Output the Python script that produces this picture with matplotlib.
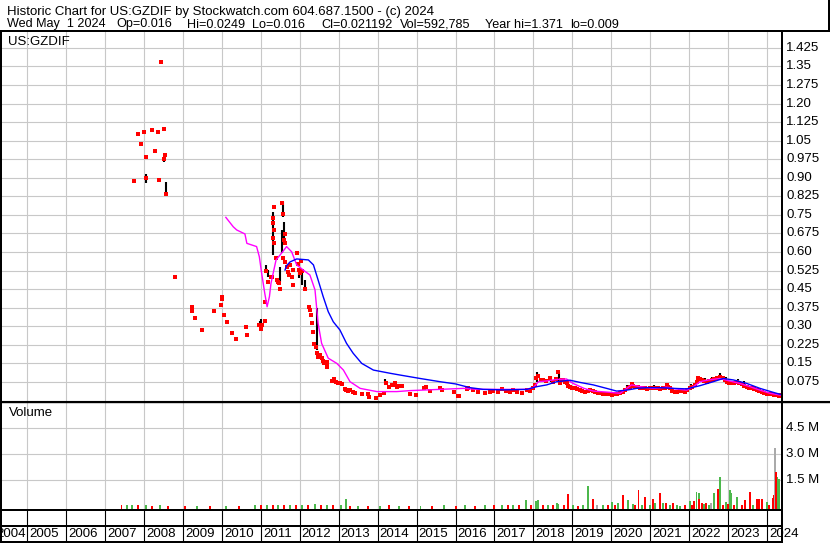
import matplotlib
matplotlib.use("Agg")
import matplotlib.pyplot as plt
from matplotlib.lines import Line2D
from matplotlib.transforms import blended_transform_factory

plt.rcParams['font.family'] = ['Liberation Sans', 'DejaVu Sans']

# ---- data (date as decimal year) ----
close_points = [
    (2007.73, 0.888), (2007.84, 1.078), (2007.91, 1.038), (2008.00, 1.085), (2008.04, 0.900), (2008.05, 0.985),
    (2008.20, 1.093), (2008.28, 1.008), (2008.36, 1.085), (2008.38, 0.892), (2008.43, 1.368), (2008.51, 1.097),
    (2008.52, 0.975), (2008.53, 0.990), (2008.57, 0.834), (2008.79, 0.500),
    (2009.23, 0.379), (2009.23, 0.363), (2009.30, 0.335), (2009.49, 0.285), (2009.80, 0.363), (2009.98, 0.387),
    (2010.00, 0.420), (2010.01, 0.410), (2010.05, 0.347), (2010.13, 0.318), (2010.26, 0.274), (2010.36, 0.249),
    (2010.62, 0.298), (2010.64, 0.265),
    (2010.96, 0.306), (2011.00, 0.288), (2011.02, 0.306), (2011.10, 0.323), (2011.10, 0.399), (2011.13, 0.523),
    (2011.19, 0.480), (2011.25, 0.498), (2011.28, 0.498), (2011.34, 0.781), (2011.32, 0.736), (2011.32, 0.716),
    (2011.34, 0.689), (2011.32, 0.655), (2011.34, 0.635), (2011.39, 0.575), (2011.41, 0.487), (2011.45, 0.480),
    (2011.47, 0.474), (2011.49, 0.449), (2011.54, 0.797), (2011.58, 0.754), (2011.62, 0.672), (2011.60, 0.649),
    (2011.62, 0.635), (2011.58, 0.575), (2011.62, 0.561), (2011.66, 0.541), (2011.70, 0.521), (2011.73, 0.507),
    (2011.75, 0.548), (2011.79, 0.500), (2011.83, 0.527), (2011.82, 0.467), (2011.92, 0.597), (2011.95, 0.552),
    (2011.98, 0.527), (2012.02, 0.564), (2012.05, 0.523), (2012.00, 0.514), (2012.13, 0.449),
    (2012.24, 0.379), (2012.26, 0.366), (2012.28, 0.346), (2012.31, 0.312), (2012.35, 0.278), (2012.37, 0.228),
    (2012.42, 0.217), (2012.43, 0.191), (2012.48, 0.177), (2012.52, 0.184), (2012.56, 0.170), (2012.59, 0.161),
    (2012.62, 0.150), (2012.69, 0.157), (2012.71, 0.147), (2012.70, 0.137),
    (2012.82, 0.080), (2012.88, 0.086), (2012.93, 0.076), (2012.99, 0.069), (2013.03, 0.072), (2013.08, 0.067),
    (2013.16, 0.045), (2013.19, 0.042), (2013.25, 0.040), (2013.29, 0.042), (2013.37, 0.036), (2013.42, 0.031),
    (2013.59, 0.026), (2013.76, 0.025), (2013.79, 0.015), (2013.96, 0.011), (2014.05, 0.022), (2014.15, 0.029),
    (2014.21, 0.072), (2014.30, 0.056), (2014.36, 0.063), (2014.40, 0.064), (2014.45, 0.069), (2014.49, 0.056),
    (2014.55, 0.059), (2014.62, 0.060), (2014.83, 0.026), (2014.98, 0.022), (2015.20, 0.052), (2015.24, 0.056),
    (2015.35, 0.038), (2015.60, 0.050), (2015.64, 0.042), (2015.95, 0.036), (2016.06, 0.019), (2016.10, 0.019),
    (2016.29, 0.048), (2016.33, 0.052), (2016.45, 0.042), (2016.58, 0.036), (2016.76, 0.029), (2016.88, 0.033),
    (2016.95, 0.038), (2017.10, 0.035), (2017.20, 0.046), (2017.30, 0.040), (2017.40, 0.033), (2017.48, 0.042),
    (2017.57, 0.035), (2017.70, 0.029), (2017.83, 0.042), (2017.92, 0.040), (2018.00, 0.049), (2018.05, 0.063),
    (2018.06, 0.089), (2018.12, 0.100), (2018.20, 0.083), (2018.25, 0.083), (2018.33, 0.080), (2018.43, 0.089),
    (2018.50, 0.076), (2018.57, 0.085), (2018.64, 0.114), (2018.68, 0.069), (2018.72, 0.083), (2018.77, 0.083),
    (2018.80, 0.076), (2018.86, 0.069), (2018.90, 0.060), (2018.94, 0.056), (2019.00, 0.052), (2019.07, 0.049),
    (2019.13, 0.045), (2019.20, 0.042), (2019.26, 0.040), (2019.33, 0.036), (2019.39, 0.040), (2019.45, 0.042),
    (2019.52, 0.038), (2019.58, 0.036), (2019.65, 0.032), (2019.71, 0.029), (2019.78, 0.027), (2019.84, 0.025),
    (2019.90, 0.027), (2019.97, 0.025), (2020.03, 0.022), (2020.10, 0.025), (2020.16, 0.027), (2020.22, 0.029),
    (2020.29, 0.036), (2020.35, 0.042), (2020.42, 0.052), (2020.48, 0.056), (2020.53, 0.065), (2020.57, 0.060),
    (2020.61, 0.056), (2020.68, 0.054), (2020.74, 0.052), (2020.80, 0.050), (2020.87, 0.049), (2020.93, 0.047),
    (2021.00, 0.049), (2021.06, 0.050), (2021.12, 0.052), (2021.19, 0.049), (2021.25, 0.047), (2021.32, 0.050),
    (2021.38, 0.052), (2021.42, 0.063), (2021.46, 0.055), (2021.51, 0.049), (2021.57, 0.040), (2021.64, 0.033),
    (2021.70, 0.036), (2021.77, 0.038), (2021.83, 0.037), (2021.89, 0.036), (2021.95, 0.042), (2022.02, 0.049),
    (2022.08, 0.055), (2022.15, 0.063), (2022.20, 0.075), (2022.24, 0.089), (2022.28, 0.086), (2022.32, 0.083),
    (2022.38, 0.079), (2022.45, 0.076), (2022.51, 0.080), (2022.58, 0.083), (2022.64, 0.086), (2022.71, 0.089),
    (2022.75, 0.092), (2022.79, 0.095), (2022.84, 0.092), (2022.88, 0.089), (2022.92, 0.083), (2022.97, 0.076),
    (2023.03, 0.072), (2023.09, 0.069), (2023.16, 0.072), (2023.22, 0.076), (2023.28, 0.070), (2023.35, 0.065),
    (2023.41, 0.060), (2023.48, 0.056), (2023.54, 0.052), (2023.61, 0.049), (2023.67, 0.045), (2023.74, 0.042),
    (2023.80, 0.038), (2023.86, 0.033), (2023.92, 0.029), (2023.99, 0.025), (2024.05, 0.026), (2024.12, 0.025),
    (2024.18, 0.024), (2024.25, 0.022), (2024.30, 0.020), (2024.33, 0.021),
]

# daily high-low ranges (date, low, high)
range_points = [
    (2008.00, 1.075, 1.095), (2008.04, 0.880, 0.915), (2008.52, 0.965, 0.985), (2008.57, 0.834, 0.884),
    (2010.98, 0.305, 0.322), (2011.00, 0.305, 0.331), (2011.13, 0.521, 0.548), (2011.19, 0.500, 0.527),
    (2011.30, 0.588, 0.763), (2011.41, 0.474, 0.494), (2011.50, 0.480, 0.541), (2011.53, 0.595, 0.689),
    (2011.57, 0.743, 0.803), (2011.60, 0.650, 0.720), (2011.99, 0.494, 0.534), (2012.05, 0.467, 0.514),
    (2012.13, 0.447, 0.487), (2012.43, 0.204, 0.372), (2014.19, 0.067, 0.086), (2018.10, 0.076, 0.116),
    (2018.45, 0.075, 0.100), (2018.67, 0.069, 0.114), (2019.10, 0.042, 0.058), (2019.60, 0.030, 0.042),
    (2020.40, 0.045, 0.062), (2020.53, 0.056, 0.075), (2020.85, 0.044, 0.058), (2021.10, 0.045, 0.062),
    (2021.42, 0.052, 0.069), (2021.85, 0.032, 0.045), (2022.05, 0.045, 0.065), (2022.24, 0.076, 0.098),
    (2022.40, 0.072, 0.090), (2022.60, 0.075, 0.095), (2022.79, 0.082, 0.110), (2022.95, 0.072, 0.095),
    (2023.25, 0.068, 0.088), (2023.40, 0.058, 0.078), (2023.70, 0.040, 0.055), (2024.30, 0.015, 0.025),
]

ma_short = [
    (2010.10, 0.740), (2010.29, 0.702), (2010.38, 0.689), (2010.59, 0.673), (2010.64, 0.635), (2010.89, 0.622),
    (2010.96, 0.581), (2011.02, 0.514), (2011.10, 0.433), (2011.16, 0.379), (2011.22, 0.420), (2011.26, 0.474),
    (2011.39, 0.568), (2011.56, 0.601), (2011.66, 0.622), (2011.79, 0.601), (2011.92, 0.548), (2012.09, 0.527),
    (2012.26, 0.507), (2012.39, 0.447), (2012.47, 0.312), (2012.56, 0.231), (2012.73, 0.171), (2012.95, 0.150),
    (2013.12, 0.123), (2013.29, 0.076), (2013.55, 0.049), (2013.98, 0.036), (2014.49, 0.036), (2014.83, 0.040),
    (2015.60, 0.045), (2016.20, 0.049), (2016.54, 0.045), (2017.83, 0.045), (2018.00, 0.052), (2018.13, 0.076),
    (2018.34, 0.079), (2018.60, 0.085), (2018.85, 0.087), (2019.02, 0.069), (2019.30, 0.049), (2019.54, 0.038),
    (2019.97, 0.033), (2020.23, 0.029), (2020.40, 0.049), (2020.52, 0.063), (2020.74, 0.056), (2021.08, 0.049),
    (2021.42, 0.054), (2021.64, 0.047), (2021.94, 0.042), (2022.11, 0.056), (2022.28, 0.076), (2022.50, 0.083),
    (2022.79, 0.089), (2023.04, 0.079), (2023.30, 0.069), (2023.56, 0.056), (2023.82, 0.042), (2024.08, 0.029),
    (2024.34, 0.022),
]

ma_long = [
    (2011.62, 0.527), (2011.66, 0.545), (2011.75, 0.560), (2011.92, 0.572), (2012.22, 0.568), (2012.35, 0.548),
    (2012.47, 0.487), (2012.60, 0.420), (2012.73, 0.359), (2012.86, 0.318), (2013.03, 0.285), (2013.20, 0.231),
    (2013.37, 0.191), (2013.59, 0.150), (2013.89, 0.123), (2014.32, 0.110), (2014.57, 0.103), (2015.09, 0.089),
    (2015.60, 0.076), (2016.00, 0.067), (2016.37, 0.052), (2016.71, 0.045), (2017.23, 0.043), (2017.83, 0.045),
    (2018.09, 0.056), (2018.34, 0.063), (2018.60, 0.076), (2018.94, 0.082), (2019.20, 0.073), (2019.54, 0.063),
    (2019.88, 0.049), (2020.14, 0.038), (2020.40, 0.042), (2020.65, 0.049), (2020.91, 0.052), (2021.25, 0.052),
    (2021.60, 0.049), (2021.94, 0.047), (2022.28, 0.060), (2022.62, 0.076), (2022.88, 0.089), (2023.14, 0.083),
    (2023.48, 0.069), (2023.82, 0.049), (2024.16, 0.033), (2024.34, 0.025),
]

# volume in millions; g = up day, r = down day, n = unchanged
volume_points = [
    (2007.42, 0.05, 'r'), (2007.55, 0.05, 'g'), (2007.70, 0.06, 'g'), (2007.85, 0.05, 'r'), (2008.05, 0.06, 'g'),
    (2008.20, 0.04, 'r'), (2008.40, 0.05, 'g'), (2008.62, 0.04, 'r'), (2009.05, 0.03, 'r'), (2009.35, 0.03, 'g'),
    (2009.70, 0.03, 'r'), (2010.10, 0.04, 'g'), (2010.45, 0.03, 'r'), (2010.85, 0.06, 'g'), (2011.00, 0.08, 'r'),
    (2011.15, 0.08, 'g'), (2011.30, 0.10, 'r'), (2011.45, 0.08, 'g'), (2011.60, 0.10, 'r'), (2011.75, 0.08, 'g'),
    (2011.90, 0.10, 'r'), (2012.05, 0.06, 'g'), (2012.20, 0.08, 'r'), (2012.40, 0.12, 'g'), (2012.55, 0.08, 'r'),
    (2012.70, 0.06, 'g'), (2012.85, 0.05, 'r'), (2013.05, 0.05, 'g'), (2013.18, 0.42, 'g'), (2013.30, 0.04, 'r'),
    (2013.50, 0.04, 'g'), (2013.75, 0.04, 'r'), (2014.05, 0.04, 'g'), (2014.30, 0.05, 'r'), (2014.55, 0.04, 'g'),
    (2014.80, 0.03, 'r'), (2015.10, 0.04, 'g'), (2015.40, 0.04, 'r'), (2015.70, 0.05, 'g'), (2016.00, 0.04, 'r'),
    (2016.25, 0.05, 'g'), (2016.50, 0.04, 'r'), (2016.75, 0.05, 'g'), (2017.00, 0.05, 'r'), (2017.20, 0.07, 'g'),
    (2017.35, 0.05, 'r'), (2017.48, 0.08, 'g'), (2017.62, 0.05, 'r'), (2017.81, 0.36, 'g'), (2017.95, 0.06, 'r'),
    (2018.06, 0.31, 'g'), (2018.11, 0.36, 'g'), (2018.25, 0.06, 'r'), (2018.38, 0.08, 'g'), (2018.50, 0.05, 'r'),
    (2018.60, 0.17, 'g'), (2018.64, 0.13, 'g'), (2018.78, 0.06, 'r'), (2018.90, 0.71, 'r'), (2019.02, 0.05, 'g'),
    (2019.15, 0.04, 'r'), (2019.28, 0.06, 'g'), (2019.40, 1.17, 'g'), (2019.52, 0.40, 'r'), (2019.64, 0.06, 'n'),
    (2019.78, 0.06, 'g'), (2019.91, 0.06, 'r'), (2020.01, 0.27, 'g'), (2020.10, 0.05, 'r'), (2020.18, 0.17, 'g'),
    (2020.31, 0.65, 'r'), (2020.44, 0.36, 'g'), (2020.55, 0.13, 'g'), (2020.62, 0.06, 'r'), (2020.70, 0.94, 'r'),
    (2020.80, 0.06, 'g'), (2020.87, 0.52, 'r'), (2021.00, 0.06, 'g'), (2021.07, 0.40, 'r'), (2021.12, 0.21, 'g'),
    (2021.25, 0.79, 'r'), (2021.34, 0.17, 'g'), (2021.41, 0.17, 'r'), (2021.50, 0.05, 'g'), (2021.58, 0.21, 'r'),
    (2021.68, 0.06, 'g'), (2021.77, 0.03, 'g'), (2021.90, 0.06, 'r'), (2022.02, 0.31, 'g'), (2022.08, 0.10, 'r'),
    (2022.13, 0.31, 'r'), (2022.19, 0.84, 'g'), (2022.25, 0.75, 'g'), (2022.26, 0.40, 'r'), (2022.32, 0.21, 'r'),
    (2022.38, 0.15, 'g'), (2022.43, 0.21, 'r'), (2022.50, 0.10, 'g'), (2022.55, 0.21, 'n'), (2022.64, 0.79, 'g'),
    (2022.73, 0.98, 'r'), (2022.79, 1.71, 'g'), (2022.88, 0.10, 'r'), (2022.95, 0.27, 'g'), (2023.00, 0.15, 'r'),
    (2023.05, 0.94, 'g'), (2023.08, 0.75, 'g'), (2023.15, 0.10, 'r'), (2023.24, 0.52, 'g'), (2023.35, 0.08, 'r'),
    (2023.44, 0.36, 'r'), (2023.56, 0.84, 'r'), (2023.65, 0.10, 'g'), (2023.74, 0.40, 'r'), (2023.80, 0.40, 'r'),
    (2023.88, 0.40, 'r'), (2023.99, 0.27, 'g'), (2024.06, 0.10, 'r'), (2024.15, 0.46, 'r'), (2024.18, 0.65, 'r'),
    (2024.21, 3.35, 'n'), (2024.22, 2.00, 'r'), (2024.27, 1.71, 'g'), (2024.32, 1.56, 'g'),
]

years = list(range(2004, 2025))
price_ticks = [0.075, 0.15, 0.225, 0.30, 0.375, 0.45, 0.525, 0.60, 0.675, 0.75, 0.825,
               0.90, 0.975, 1.05, 1.125, 1.20, 1.275, 1.35, 1.425]
price_labels = ["0.075", "0.15", "0.225", "0.30", "0.375", "0.45", "0.525", "0.60", "0.675", "0.75",
                "0.825", "0.90", "0.975", "1.05", "1.125", "1.20", "1.275", "1.35", "1.425"]
volume_ticks = [1.5, 3.0, 4.5]
volume_labels = ["1.5 M", "3.0 M", "4.5 M"]

header_1 = "Historic Chart for US:GZDIF by Stockwatch.com 604.687.1500 - (c) 2024"
header_fields = [("Wed May  1 2024", 7), ("Op=0.016", 116), ("Hi=0.0249", 187), ("Lo=0.016", 252),
                 ("Cl=0.021192", 321), ("Vol=592,785", 400), ("Year hi=1.371", 485), ("lo=0.009", 570)]

# ---- layout (pixel based) ----
W, H = 830, 543
fig = plt.figure(figsize=(W / 100, H / 100), dpi=100)
FS = 9.5
GRID = "#c8c8c8"
colors = {'g': "#4cb84c", 'r': "#ff0000", 'n': "#aaaaaa"}


def rect(x0, y0, x1, y1):
    return [x0 / W, 1 - y1 / H, (x1 - x0) / W, (y1 - y0) / H]


def hline(y, x0, x1, lw=1.44):
    fig.add_artist(Line2D([x0 / W, x1 / W], [1 - y / H, 1 - y / H], color="black", lw=lw))


def vline(x, y0, y1, lw=1.44):
    fig.add_artist(Line2D([x / W, x / W], [1 - y0 / H, 1 - y1 / H], color="black", lw=lw))


xlim = (2004.299, 2024.373)

# price panel
ax_p = fig.add_axes(rect(0, 32, 781.5, 401))
ax_p.set_xlim(*xlim)
ax_p.set_ylim(-0.002, 1.489)
ax_p.axis("off")
for yr in years[1:]:
    ax_p.axvline(yr, color=GRID, lw=0.8, zorder=0)
for t in price_ticks:
    ax_p.axhline(t, color=GRID, lw=0.8, zorder=0)

rd, rlo, rhi = zip(*range_points)
ax_p.vlines(rd, rlo, rhi, color="black", lw=1.5, zorder=2)
cd, cp = zip(*close_points)
ax_p.plot(cd, cp, "s", ms=2.6, mew=0, color="#ff0000", zorder=3)
md, mv = zip(*ma_short)
ax_p.plot(md, mv, color="#ff00ff", lw=1.0, zorder=4)
ld, lv = zip(*ma_long)
ax_p.plot(ld, lv, color="#0000ff", lw=1.0, zorder=5)

ax_p.text(8 / W, 1 - 42 / H, "US:GZDIF", transform=fig.transFigure, fontsize=FS, va="center")
tr_p = blended_transform_factory(fig.transFigure, ax_p.transData)
for t, lab in zip(price_ticks, price_labels):
    ax_p.text(786 / W, t, lab, transform=tr_p, fontsize=FS, va="center", ha="left")

# volume panel
vbot = -0.185
ax_v = fig.add_axes(rect(0, 403, 781.5, 509.5))
ax_v.set_xlim(*xlim)
ax_v.set_ylim(vbot, 5.96)
ax_v.axis("off")
for yr in years[1:]:
    ax_v.axvline(yr, color=GRID, lw=0.8, zorder=0)
for t in volume_ticks:
    ax_v.axhline(t, color=GRID, lw=0.8, zorder=0)
vd, vv, vc = zip(*volume_points)
ax_v.bar(vd, [v - vbot for v in vv], bottom=vbot, width=0.05,
         color=[colors[c] for c in vc], linewidth=0, zorder=2)
ax_v.text(9 / W, 1 - 413 / H, "Volume", transform=fig.transFigure, fontsize=FS, va="center")
tr_v = blended_transform_factory(fig.transFigure, ax_v.transData)
for t, lab in zip(volume_ticks, volume_labels):
    ax_v.text(786 / W, t, lab, transform=tr_v, fontsize=FS, va="center", ha="left")

# year strip
ax_x = fig.add_axes(rect(0, 510, 781.5, 542))
ax_x.set_xlim(*xlim)
ax_x.set_ylim(0, 1)
ax_x.axis("off")
for yr in years[1:]:
    ax_x.axvline(yr, color="black", lw=0.8)
for yr in years:
    if yr == years[0]:
        ax_x.text(2004.95, 0.25, str(yr), fontsize=FS, ha="right", va="center", clip_on=False)
    else:
        ax_x.text(yr + 0.05, 0.25, str(yr), fontsize=FS, ha="left", va="center", clip_on=False)

# header
fig.text(7 / W, 1 - 15 / H, header_1, fontsize=FS, va="baseline", ha="left")
for txt, xp in header_fields:
    fig.text(xp / W, 1 - 27.5 / H, txt, fontsize=9.1, va="baseline", ha="left")

# frame lines
hline(31, 0, 829)
vline(828.5, 0, 31)
vline(1, 31, 543)
vline(781.5, 31, 543)
hline(400.5, 0, 830, lw=0.8)
hline(402.3, 0, 830, lw=1.0)
hline(510, 0, 781.5)
hline(526, 0, 781.5)
hline(542, 0, 781.5)

fig.savefig("out.png", dpi=100)
